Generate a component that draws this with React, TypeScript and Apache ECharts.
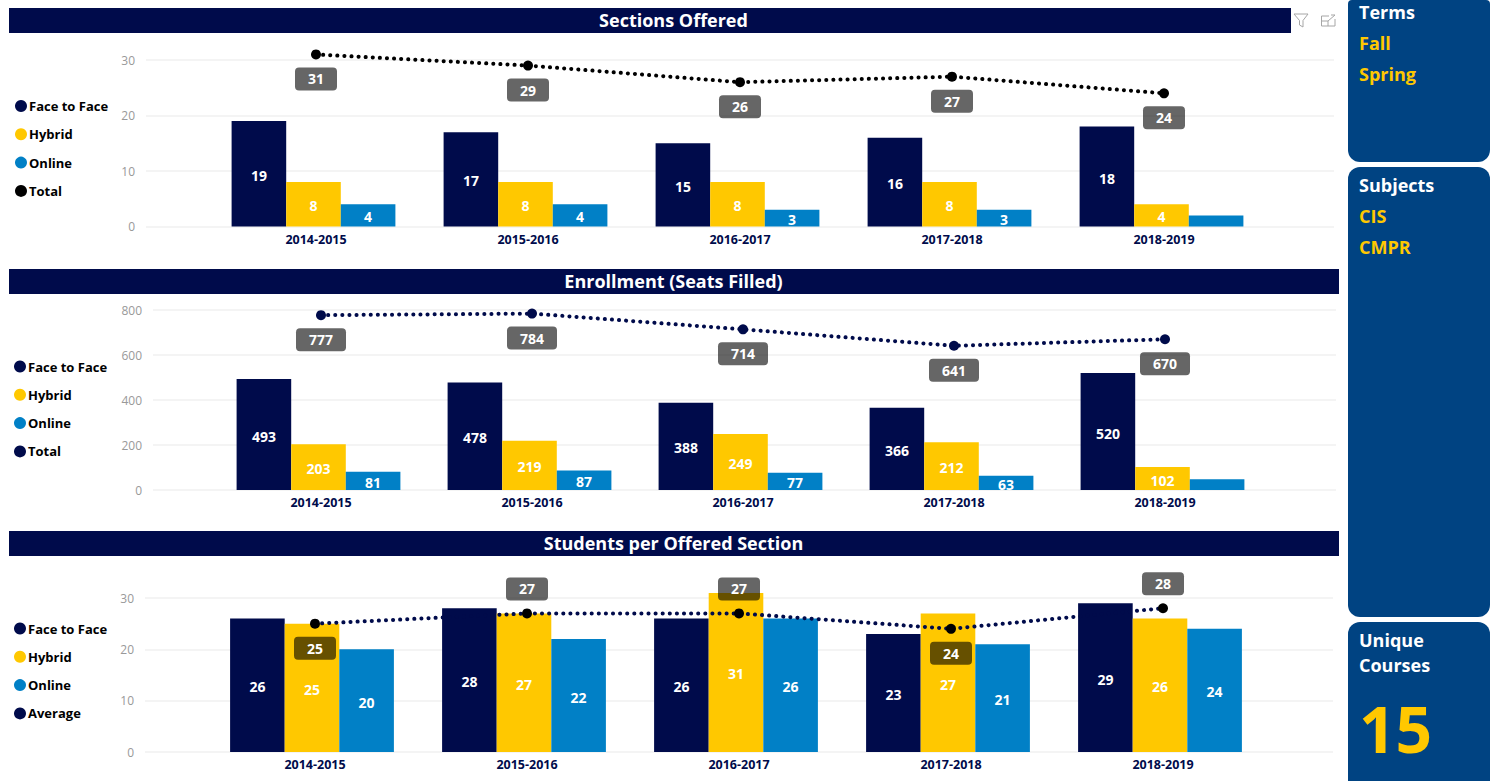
import React, { useEffect, useRef } from "react";
import * as echarts from "echarts";

const years = ["2014-2015", "2015-2016", "2016-2017", "2017-2018", "2018-2019"];

const sectionsFace = [19, 17, 15, 16, 18];
const sectionsHybrid = [8, 8, 8, 8, 4];
const sectionsOnline = [4, 4, 3, 3, 2];
const sectionsTotal = [31, 29, 26, 27, 24];

const seatsFace = [493, 478, 388, 366, 520];
const seatsHybrid = [203, 219, 249, 212, 102];
const seatsOnline = [81, 87, 77, 63, 48];
const seatsTotal = [777, 784, 714, 641, 670];

const perSectionFace = [26, 28, 26, 23, 29];
const perSectionHybrid = [25, 27, 31, 27, 26];
const perSectionOnline = [20, 22, 26, 21, 24];
const perSectionAverage = [25, 27, 27, 24, 28];
const perSectionLabelAbove = [false, true, true, false, true];

const termItems = ["Fall", "Spring"];
const subjectItems = ["CIS", "CMPR"];
const uniqueCourses = "15";

const NAVY = "#000B4B";
const GOLD = "#FFC800";
const BLUE = "#0180C6";
const PANEL = "#004382";
const FONT = "'Open Sans', 'Noto Sans', sans-serif";

type Panel = {
  title: string;
  header: { x: number; y: number; w: number; h: number };
  gridLines: { left: number; width: number };
  plot: { left: number; width: number };
  barShift: number;
  zeroY: number;
  unitPx: number;
  axisMax: number;
  plotMax: number;
  interval: number;
  labelMin: number;
  legendLeft: number;
  legendTop: number;
  lineName: string;
  lineColor: string;
  pointColor: string;
  legendLineColor: string;
  face: number[];
  hybrid: number[];
  online: number[];
  line: number[];
  above?: boolean[];
};

const panels: Panel[] = [
  {
    title: "Sections Offered",
    header: { x: 9, y: 8, w: 1282, h: 25 },
    gridLines: { left: 146, width: 1188 },
    plot: { left: 210, width: 1060 },
    barShift: 5,
    zeroY: 226.5,
    unitPx: 5.55,
    axisMax: 30,
    plotMax: 35,
    interval: 10,
    labelMin: 3,
    legendLeft: 15,
    legendTop: 99.5,
    lineName: "Total",
    lineColor: "#000000",
    pointColor: "#000000",
    legendLineColor: "#000000",
    face: sectionsFace,
    hybrid: sectionsHybrid,
    online: sectionsOnline,
    line: sectionsTotal,
  },
  {
    title: "Enrollment (Seats Filled)",
    header: { x: 9, y: 269, w: 1330, h: 25 },
    gridLines: { left: 153, width: 1183 },
    plot: { left: 215.5, width: 1055 },
    barShift: 5,
    zeroY: 490,
    unitPx: 0.225,
    axisMax: 800,
    plotMax: 800,
    interval: 200,
    labelMin: 50,
    legendLeft: 14,
    legendTop: 360,
    lineName: "Total",
    lineColor: NAVY,
    pointColor: NAVY,
    legendLineColor: NAVY,
    face: seatsFace,
    hybrid: seatsHybrid,
    online: seatsOnline,
    line: seatsTotal,
  },
  {
    title: "Students per Offered Section",
    header: { x: 9, y: 531, w: 1330, h: 25 },
    gridLines: { left: 145, width: 1188 },
    plot: { left: 209, width: 1060 },
    barShift: 6,
    zeroY: 752,
    unitPx: 5.133,
    axisMax: 30,
    plotMax: 35,
    interval: 10,
    labelMin: 3,
    legendLeft: 14,
    legendTop: 622,
    lineName: "Average",
    lineColor: NAVY,
    pointColor: "#000000",
    legendLineColor: NAVY,
    face: perSectionFace,
    hybrid: perSectionHybrid,
    online: perSectionOnline,
    line: perSectionAverage,
    above: perSectionLabelAbove,
  },
];

function barSeries(
  name: string,
  color: string,
  values: number[],
  labelMin: number,
  axisIndex: number
) {
  return {
    type: "bar",
    name,
    xAxisIndex: axisIndex,
    yAxisIndex: axisIndex,
    data: values,
    barWidth: 54.6,
    barGap: 0,
    z: 3,
    itemStyle: { color },
    label: {
      show: true,
      position: "inside",
      offset: [0, 1.5],
      color: "#FFFFFF",
      fontFamily: FONT,
      fontSize: 14,
      fontWeight: 700,
      formatter: (p: { value: number }) =>
        p.value >= labelMin ? String(p.value) : "",
    },
  };
}

// Empty slot after the three bars: the clusters sit slightly left of each category centre.
function spacerSeries(width: number, axisIndex: number) {
  return {
    type: "bar",
    name: "spacer",
    xAxisIndex: axisIndex,
    yAxisIndex: axisIndex,
    data: years.map(() => null),
    barWidth: width,
    barGap: 0,
    silent: true,
    itemStyle: { color: "transparent" },
  };
}

function lineSeries(p: Panel, axisIndex: number) {
  return {
    type: "line",
    name: p.lineName,
    xAxisIndex: axisIndex,
    yAxisIndex: axisIndex,
    z: 6,
    clip: false,
    symbol: "circle",
    symbolSize: 10,
    itemStyle: { color: p.pointColor },
    lineStyle: { color: p.lineColor, width: 4, type: [0.1, 7], cap: "round" },
    data: p.line.map((value, i) => ({
      value,
      label: { position: p.above && p.above[i] ? "top" : "bottom" },
    })),
    label: {
      show: true,
      distance: 8,
      color: "#FFFFFF",
      backgroundColor: "rgba(0,0,0,0.6)",
      borderRadius: 4,
      fontFamily: FONT,
      fontSize: 14,
      fontWeight: 700,
      lineHeight: 23,
      height: 23,
      width: p.axisMax > 100 ? 50 : 42,
      align: "center",
    },
  };
}

function sidePanel(y: number, h: number, radius: number[]) {
  return {
    type: "rect",
    z: 20,
    shape: { x: 1348, y, width: 142, height: h, r: radius },
    style: { fill: PANEL },
  };
}

function sideText(text: string, y: number, fill: string, fontSize = 18, x = 1359) {
  return {
    type: "text",
    z: 21,
    x,
    y,
    style: {
      text,
      fill,
      fontFamily: FONT,
      fontSize,
      fontWeight: 700,
      verticalAlign: "middle",
      align: "left",
    },
  };
}

function buildOption() {
  const grid: object[] = [];
  const xAxis: object[] = [];
  const yAxis: object[] = [];
  const series: object[] = [];
  const legend: object[] = [];
  const graphic: object[] = [];

  panels.forEach((p, i) => {
    const lineGrid = i * 2;
    const plotGrid = i * 2 + 1;

    // Back grid carries the value axis and its full-width rules.
    grid.push({
      left: p.gridLines.left,
      width: p.gridLines.width,
      top: p.zeroY - p.axisMax * p.unitPx,
      height: p.axisMax * p.unitPx,
    });
    xAxis.push({
      gridIndex: lineGrid,
      type: "category",
      data: years,
      show: false,
    });
    yAxis.push({
      gridIndex: lineGrid,
      type: "value",
      min: 0,
      max: p.axisMax,
      interval: p.interval,
      axisLine: { show: false },
      axisTick: { show: false },
      axisLabel: {
        color: "#999999",
        fontFamily: FONT,
        fontSize: 12,
        margin: 11,
      },
      splitLine: { lineStyle: { color: "#F0F0F0", width: 1.5 } },
    });

    // Front grid is narrower and holds the bars and the line.
    grid.push({
      left: p.plot.left,
      width: p.plot.width,
      top: p.zeroY - p.plotMax * p.unitPx,
      height: p.plotMax * p.unitPx,
    });
    xAxis.push({
      gridIndex: plotGrid,
      type: "category",
      data: years,
      axisLine: { show: false },
      axisTick: { show: false },
      axisLabel: {
        color: NAVY,
        fontFamily: FONT,
        fontSize: 12.5,
        fontWeight: 700,
        margin: 6,
      },
    });
    yAxis.push({
      gridIndex: plotGrid,
      type: "value",
      min: 0,
      max: p.plotMax,
      show: false,
      splitLine: { show: false },
    });

    series.push(
      barSeries("Face to Face", NAVY, p.face, p.labelMin, plotGrid),
      barSeries("Hybrid", GOLD, p.hybrid, p.labelMin, plotGrid),
      barSeries("Online", BLUE, p.online, p.labelMin, plotGrid),
      spacerSeries(p.barShift, plotGrid),
      lineSeries(p, plotGrid)
    );

    legend.push({
      orient: "vertical",
      left: p.legendLeft,
      top: p.legendTop,
      icon: "circle",
      itemWidth: 12,
      itemHeight: 12,
      itemGap: 15.3,
      selectedMode: false,
      padding: 0,
      textStyle: {
        color: "#000000",
        fontFamily: FONT,
        fontSize: 13,
        fontWeight: 700,
        padding: [0, 0, 0, -3],
      },
      data: [
        { name: "Face to Face", itemStyle: { color: NAVY, borderWidth: 0 } },
        { name: "Hybrid", itemStyle: { color: GOLD, borderWidth: 0 } },
        { name: "Online", itemStyle: { color: BLUE, borderWidth: 0 } },
        { name: p.lineName, itemStyle: { color: p.legendLineColor, borderWidth: 0 } },
      ],
    });

    graphic.push(
      {
        type: "rect",
        z: 20,
        shape: { x: p.header.x, y: p.header.y, width: p.header.w, height: p.header.h },
        style: { fill: NAVY },
      },
      {
        type: "text",
        z: 21,
        x: 673.5,
        y: p.header.y + p.header.h / 2 - 0.5,
        style: {
          text: p.title,
          fill: "#FFFFFF",
          fontFamily: FONT,
          fontSize: 18,
          fontWeight: 700,
          align: "center",
          verticalAlign: "middle",
        },
      }
    );
  });

  graphic.push(
    sidePanel(0, 162, [4, 4, 12, 12]),
    sidePanel(167, 450, [12, 12, 12, 12]),
    sidePanel(622, 175, [12, 12, 12, 12]),
    sideText("Terms", 12, "#FFFFFF"),
    ...termItems.map((t, i) => sideText(t, 43 + i * 31, GOLD)),
    sideText("Subjects", 185, "#FFFFFF"),
    ...subjectItems.map((t, i) => sideText(t, 216 + i * 31, GOLD)),
    sideText("Unique", 640, "#FFFFFF"),
    sideText("Courses", 665, "#FFFFFF"),
    sideText(uniqueCourses, 728, GOLD, 64, 1359),
    // Visual header icons: filter funnel and focus mode
    {
      type: "polygon",
      z: 21,
      shape: {
        points: [
          [1294, 14],
          [1308, 14],
          [1303, 20.5],
          [1303, 27],
          [1299.5, 25],
          [1299.5, 20.5],
        ],
      },
      style: { fill: "none", stroke: "#A6A6A6", lineWidth: 1 },
    },
    {
      type: "polyline",
      z: 21,
      shape: {
        points: [
          [1329, 16],
          [1321.5, 16],
          [1321.5, 26],
          [1335, 26],
          [1335, 19],
        ],
      },
      style: { fill: "none", stroke: "#A6A6A6", lineWidth: 1 },
    },
    {
      type: "polyline",
      z: 21,
      shape: {
        points: [
          [1321.5, 21],
          [1328, 21],
          [1328, 26],
        ],
      },
      style: { fill: "none", stroke: "#A6A6A6", lineWidth: 1 },
    },
    {
      type: "polyline",
      z: 21,
      shape: {
        points: [
          [1328, 21],
          [1335, 15],
          [1331, 15],
        ],
      },
      style: { fill: "none", stroke: "#A6A6A6", lineWidth: 1 },
    }
  );

  return { animation: false, backgroundColor: "#FFFFFF", grid, xAxis, yAxis, series, legend, graphic };
}

export default function App() {
  const ref = useRef<HTMLDivElement>(null);

  useEffect(() => {
    if (!ref.current) return;
    const chart = echarts.init(ref.current, undefined, { renderer: "svg" });
    chart.setOption(buildOption() as echarts.EChartsOption);
    return () => chart.dispose();
  }, []);

  return (
    <div
      ref={ref}
      style={{ position: "fixed", left: 0, top: 0, width: 1497, height: 781 }}
    />
  );
}
